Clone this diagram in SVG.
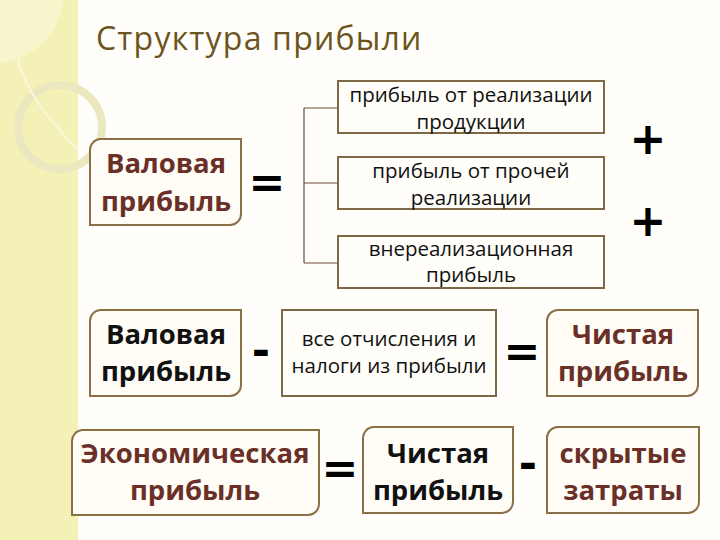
<svg xmlns="http://www.w3.org/2000/svg" width="720" height="540" viewBox="0 0 720 540">
  <defs>
    <style>
      .title { font-family: "Open Sans", "Noto Sans", sans-serif; font-size: 32px; letter-spacing: 1.2px; fill: #6b5420; }
      .box { fill: #fffdf6; stroke: #8b6f47; stroke-width: 2; }
      .rect { fill: #fffef9; stroke: #7d6a45; stroke-width: 2; }
      .big { font-family: "Open Sans", "Noto Sans", sans-serif; font-size: 27.5px; font-weight: bold; text-anchor: middle; }
      .brown { fill: #6a3028; }
      .black { fill: #111111; }
      .small { font-family: "Open Sans", "Noto Sans", sans-serif; font-size: 20.5px; text-anchor: middle; fill: #111111; }
      .op { font-family: "DejaVu Sans", sans-serif; font-weight: bold; text-anchor: middle; fill: #000000; }
      .conn { fill: none; stroke: #6b4a3a; stroke-width: 1.2; }
    </style>
  </defs>

  <!-- background -->
  <rect x="0" y="0" width="720" height="540" fill="#fffefa"/>
  <rect x="0" y="0" width="78" height="540" fill="#f4f1b6"/>
  <g id="decor" fill="none">
    <circle cx="-8" cy="-8" r="72" fill="#f8f6d4" opacity="0.7"/>
    <circle cx="60" cy="127" r="42" stroke="#ebe8c0" stroke-width="8"/>
    <path d="M 18 60 Q 28 100 78 150" stroke="#f9f7dc" stroke-width="2"/>
  </g>

  <text class="title" x="96" y="50">Структура прибыли</text>

  <g id="connectors">
    <path class="conn" d="M 304 108 V 263 M 304 108 H 338 M 304 183 H 338 M 304 263 H 338"/>
  </g>

  <g id="gross1">
    <path class="box" d="M 100 139 H 241 V 214 A 11 11 0 0 1 230 225 H 90 V 150 A 11 11 0 0 1 100 139 Z"/>
    <text class="big brown" x="166" y="173">Валовая</text>
    <text class="big brown" x="166" y="211">прибыль</text>
  </g>
  <text class="op" x="267" y="197" font-size="44">=</text>

  <g id="sales">
    <rect class="rect" x="338" y="81" width="266" height="52"/>
    <text class="small" x="471" y="102">прибыль от реализации</text>
    <text class="small" x="471" y="129">продукции</text>
  </g>
  <g id="other">
    <rect class="rect" x="338" y="157" width="266" height="52"/>
    <text class="small" x="471" y="178">прибыль от прочей</text>
    <text class="small" x="471" y="205">реализации</text>
  </g>
  <g id="nonop">
    <rect class="rect" x="338" y="236" width="266" height="52"/>
    <text class="small" x="471" y="256">внереализационная</text>
    <text class="small" x="471" y="282">прибыль</text>
  </g>
  <text class="op" x="648" y="154" font-size="44">+</text>
  <text class="op" x="648" y="236" font-size="44">+</text>

  <g id="gross2">
    <path class="box" d="M 100 310 H 241 V 385 A 11 11 0 0 1 230 396 H 90 V 321 A 11 11 0 0 1 100 310 Z"/>
    <text class="big black" x="166" y="344">Валовая</text>
    <text class="big black" x="166" y="381">прибыль</text>
  </g>
  <text class="op" x="261" y="366" font-size="44">-</text>
  <g id="taxes">
    <rect class="rect" x="282" y="310" width="214" height="86"/>
    <text class="small" x="389" y="346">все отчисления и</text>
    <text class="small" x="389" y="373">налоги из прибыли</text>
  </g>
  <text class="op" x="522" y="366" font-size="44">=</text>
  <g id="net1">
    <path class="box" d="M 558 310 H 698 V 385 A 11 11 0 0 1 687 396 H 547 V 321 A 11 11 0 0 1 558 310 Z"/>
    <text class="big brown" x="623" y="344">Чистая</text>
    <text class="big brown" x="623" y="381">прибыль</text>
  </g>

  <g id="econ">
    <path class="box" d="M 82 430 H 319 V 504 A 11 11 0 0 1 308 515 H 72 V 441 A 11 11 0 0 1 82 430 Z"/>
    <text class="big brown" x="195" y="463">Экономическая</text>
    <text class="big brown" x="195" y="500">прибыль</text>
  </g>
  <text class="op" x="340" y="483" font-size="44">=</text>
  <g id="net2">
    <path class="box" d="M 373 427 H 513 V 502 A 11 11 0 0 1 502 513 H 363 V 438 A 11 11 0 0 1 373 427 Z"/>
    <text class="big black" x="438" y="463">Чистая</text>
    <text class="big black" x="438" y="500">прибыль</text>
  </g>
  <text class="op" x="528" y="479" font-size="44">-</text>
  <g id="hidden">
    <path class="box" d="M 558 427 H 699 V 502 A 11 11 0 0 1 688 513 H 547 V 438 A 11 11 0 0 1 558 427 Z"/>
    <text class="big brown" x="623" y="463">скрытые</text>
    <text class="big brown" x="623" y="500">затраты</text>
  </g>
</svg>
